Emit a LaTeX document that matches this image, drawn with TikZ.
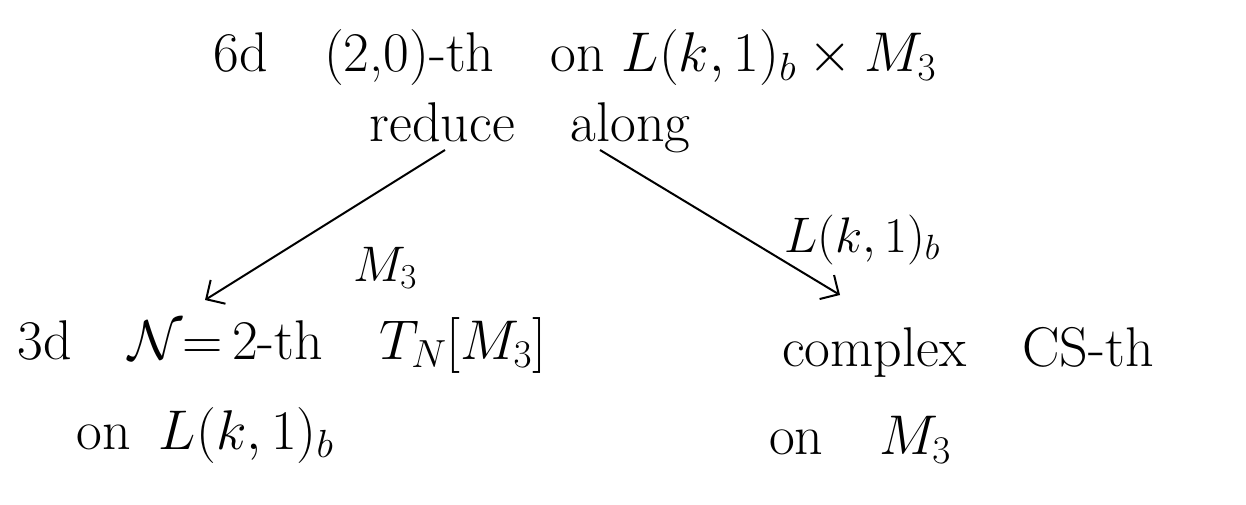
\documentclass[tikz,border=0pt]{standalone}
\usepackage{fix-cm}
\usetikzlibrary{arrows.meta}
\begin{document}
\begin{tikzpicture}[x=1pt,y=-1pt,
  txt/.style={font=\fontsize{56}{64}\selectfont, inner sep=0pt, anchor=center},
  lbl/.style={font=\fontsize{50}{58}\selectfont, inner sep=0pt, anchor=center},
  arr/.style={line width=2pt, -{Straight Barb[length=14pt,width=28pt,line width=2pt]}}]
\useasboundingbox (0,0) rectangle (1246,505);
\node[txt] (top) at (575,58) {6d\quad(2,0)-th\quad on\ $L(k,1)_b\times M_3$};
\node[txt] (red) at (530,128) {reduce\quad along};
\coordinate (l0) at (445,150);
\coordinate (l1) at (205,300);
\coordinate (r0) at (600,150);
\coordinate (r1) at (840,295);
\draw[arr] (l0) -- (l1);
\draw[arr] (r0) -- (r1);
\node[lbl] (lm) at (385,268) {$M_3$};
\node[lbl] (rm) at (862,240) {$L(k,1)_b$};
\node[txt] (bl1) at (282,345) {3d\quad $\mathcal{N}{=}\,2$-th\quad $T_N[M_3]$};
\node[txt] (bl2) at (205,435) {on\enspace $L(k,1)_b$};
\node[txt] (br1) at (968,352) {complex\quad CS-th};
\node[txt] (br2) at (860,440) {on\quad $M_3$};
\end{tikzpicture}
\end{document}
